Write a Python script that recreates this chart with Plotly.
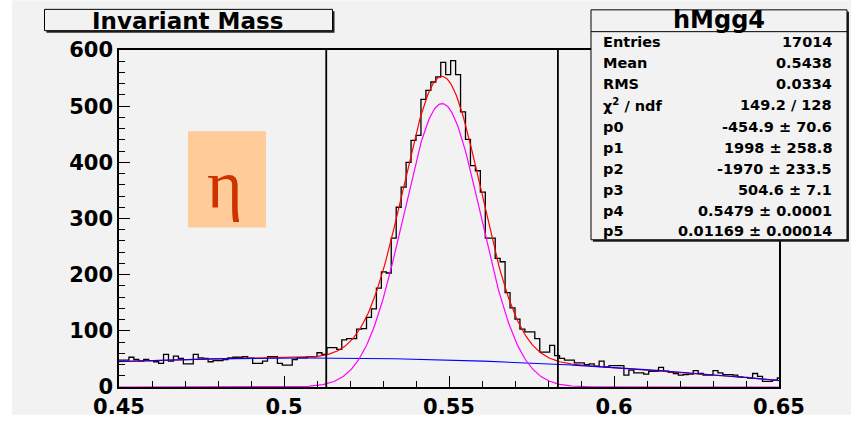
import numpy as np
import plotly.graph_objects as go

# ---------------- data ----------------
x_min = 0.45
bin_width = 0.0015
counts = [
    48, 48, 53, 49, 46, 49, 47, 45, 42, 58, 46, 55, 51, 41, 41, 58, 52, 51, 45, 47,
    47, 49, 52, 53, 53, 54, 51, 42, 42, 46, 54, 54, 42, 39, 39, 49, 52, 52, 54, 54,
    61, 58,
    70, 70, 67, 84, 86, 86, 103, 104, 124, 139, 176, 205, 203, 265, 320, 356, 400, 439,
    448, 512, 528, 543, 552, 578, 556, 581, 556, 490, 441, 394, 385, 347, 265, 265, 229,
    223, 168, 141, 121, 103, 98, 98, 86, 62, 62, 74, 56,
    51, 48, 48, 43, 43, 40, 41, 37, 46, 36, 38, 38, 38, 21, 30, 25, 25, 23, 28, 28,
    35, 28, 26, 24, 21, 22, 23, 29, 24, 21, 21, 29, 25, 22, 22, 21, 18, 17, 16, 24,
    19, 10, 10, 12, 16,
]

# fit parameters as printed in the stats box: pol2 (p0..p2) + gaus (p3..p5)
fit_params = [-454.9, 1998.0, -1970.0, 504.6, 0.5479, 0.01169]
window_edges = [0.5128, 0.5830]

x_range = [0.45, 0.65]
y_range = [0, 600]
x_tick_vals = [0.45, 0.50, 0.55, 0.60, 0.65]
x_tick_text = ["0.45", "0.5", "0.55", "0.6", "0.65"]
y_tick_vals = [0, 100, 200, 300, 400, 500, 600]
y_tick_text = ["0", "100", "200", "300", "400", "500", "600"]

hist_title = "Invariant Mass"
stats_name = "hMgg4"
stats_labels = ["Entries", "Mean", "RMS", "χ<sup>2</sup> / ndf", "p0", "p1", "p2", "p3", "p4", "p5"]
stats_values = ["17014", "0.5438", "0.0334", "149.2 / 128", "-454.9 ± 70.6", "1998 ± 258.8",
                "-1970 ± 233.5", "504.6 ± 7.1", "0.5479 ± 0.0001", "0.01169 ± 0.00014"]
particle_label = "η"

# ---------------- derived ----------------
edges = [x_min + i * bin_width for i in range(len(counts) + 1)]
hist_x = edges
hist_y = counts + [counts[-1]]

p0, p1, p2, p3, p4, p5 = fit_params
xf = np.linspace(x_range[0], x_range[1], 600)
bkg = p0 + p1 * xf + p2 * xf ** 2
sig = p3 * np.exp(-0.5 * ((xf - p4) / p5) ** 2)
tot = bkg + sig

# ---------------- layout geometry (pixels) ----------------
FW, FH = 859, 431
L, R, T, B = 119, 80, 50, 41
W, H = FW - L - R, FH - T - B


def px(x):
    return (x - L) / W


def py(y):
    return (FH - B - y) / H


BG = "#f2f2f2"
FONT = "DejaVu Sans"

fig = go.Figure()

fig.add_trace(go.Scatter(x=hist_x, y=hist_y, mode="lines", line=dict(color="black", width=1.3, shape="hv"),
                         hoverinfo="skip", showlegend=False))
fig.add_trace(go.Scatter(x=xf, y=tot, mode="lines", line=dict(color="#ff0000", width=1.2),
                         hoverinfo="skip", showlegend=False))
fig.add_trace(go.Scatter(x=xf, y=bkg, mode="lines", line=dict(color="#0000ff", width=1.1),
                         hoverinfo="skip", showlegend=False))
fig.add_trace(go.Scatter(x=xf, y=sig, mode="lines", line=dict(color="#ff00ff", width=1.2),
                         hoverinfo="skip", showlegend=False))
for xe in window_edges:
    fig.add_trace(go.Scatter(x=[xe, xe], y=y_range, mode="lines", line=dict(color="black", width=1.8),
                             hoverinfo="skip", showlegend=False))

shapes = []
# gray canvas
shapes.append(dict(type="rect", xref="paper", yref="paper", x0=px(12), x1=px(851), y0=py(0), y1=py(418),
                   fillcolor=BG, line=dict(width=0), layer="below"))
# title box with shadow
shapes.append(dict(type="rect", xref="paper", yref="paper", x0=px(46.5), x1=px(334.5), y0=py(11), y1=py(32.5),
                   fillcolor="#222222", line=dict(width=0)))
shapes.append(dict(type="rect", xref="paper", yref="paper", x0=px(44.5), x1=px(332.5), y0=py(9), y1=py(30.5),
                   fillcolor=BG, line=dict(color="black", width=1)))
# stats box with shadow
shapes.append(dict(type="rect", xref="paper", yref="paper", x0=px(593), x1=px(849), y0=py(11.5), y1=py(243.5),
                   fillcolor="#222222", line=dict(width=0)))
shapes.append(dict(type="rect", xref="paper", yref="paper", x0=px(591), x1=px(847), y0=py(9.5), y1=py(241.5),
                   fillcolor=BG, line=dict(color="black", width=1)))
shapes.append(dict(type="line", xref="paper", yref="paper", x0=px(591), x1=px(847), y0=py(31.5), y1=py(31.5),
                   line=dict(color="black", width=1)))
# eta box
shapes.append(dict(type="rect", xref="paper", yref="paper", x0=px(188), x1=px(266), y0=py(132), y1=py(229),
                   fillcolor="#ffcc99", line=dict(width=0)))

annotations = []
annotations.append(dict(xref="paper", yref="paper", x=px(187), y=py(20.5), text=hist_title, showarrow=False,
                        xanchor="center", yanchor="middle",
                        font=dict(family=FONT, size=23, color="black", weight="bold")))
annotations.append(dict(xref="paper", yref="paper", x=px(719), y=py(20), text=stats_name, showarrow=False,
                        xanchor="center", yanchor="middle",
                        font=dict(family=FONT, size=24, color="black", weight="bold")))
row_y = [41.7, 62.9, 84.3, 105.7, 127.3, 148.4, 169.6, 190.8, 212.0, 233.0]
for lab, val, yy in zip(stats_labels, stats_values, row_y):
    annotations.append(dict(xref="paper", yref="paper", x=px(601), y=py(yy), text=lab, showarrow=False,
                            xanchor="left", yanchor="middle",
                            font=dict(family=FONT, size=14.5, color="black", weight="bold")))
    annotations.append(dict(xref="paper", yref="paper", x=px(834), y=py(yy), text=val, showarrow=False,
                            xanchor="right", yanchor="middle",
                            font=dict(family=FONT, size=14.5, color="black", weight="bold")))
annotations.append(dict(xref="paper", yref="paper", x=px(225), y=py(186), text=particle_label, showarrow=False,
                        xanchor="center", yanchor="middle",
                        font=dict(family="Liberation Serif", size=68, color="#cc3300")))

fig.update_layout(
    width=FW, height=FH,
    margin=dict(l=L, r=R, t=T, b=B, pad=0),
    paper_bgcolor="white",
    plot_bgcolor=BG,
    showlegend=False,
    shapes=shapes,
    annotations=annotations,
)
fig.update_xaxes(range=x_range, tickmode="array", tickvals=x_tick_vals, ticktext=x_tick_text,
                 ticks="inside", ticklen=11, tickwidth=1, tickcolor="black",
                 minor=dict(dtick=0.01, tick0=0.45, ticks="inside", ticklen=6, tickcolor="black", tickwidth=1),
                 showgrid=False, zeroline=False, showline=True, linecolor="black", linewidth=1.5, mirror=True,
                 tickfont=dict(family=FONT, size=21, color="black", weight="bold"))
fig.update_yaxes(range=y_range, tickmode="array", tickvals=y_tick_vals, ticktext=y_tick_text,
                 ticks="inside", ticklen=11, tickwidth=1, tickcolor="black",
                 minor=dict(dtick=20, tick0=0, ticks="inside", ticklen=6, tickcolor="black", tickwidth=1),
                 showgrid=False, zeroline=False, showline=True, linecolor="black", linewidth=1.5, mirror=True,
                 tickfont=dict(family=FONT, size=21, color="black", weight="bold"))

fig.write_html("out.html")
